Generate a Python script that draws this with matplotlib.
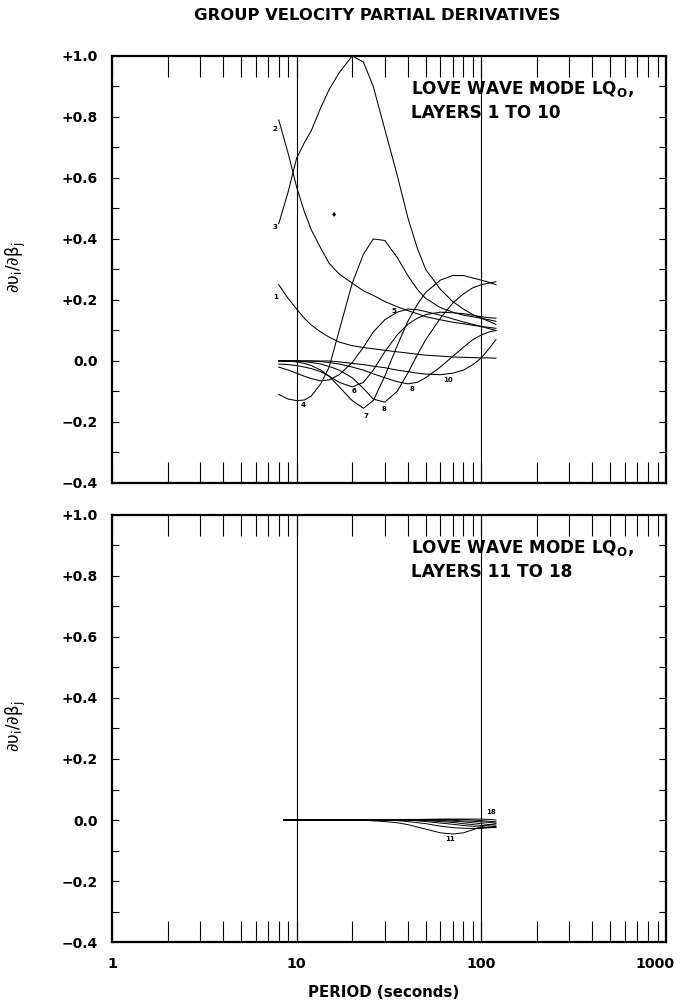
import numpy as np
import matplotlib
matplotlib.use("Agg")
import matplotlib.pyplot as plt
from matplotlib.transforms import ScaledTranslation
from matplotlib.ticker import LogLocator, MultipleLocator, NullFormatter, FixedLocator

plt.rcParams['font.family'] = ['DejaVu Sans']
plt.rcParams['mathtext.fontset'] = 'dejavusans'

# ---- periods (s) at which the derivatives are tabulated ----
period_top = [8, 9, 10, 11, 12, 13.5, 15, 17, 20, 23, 26, 30, 35, 40, 45, 50, 60, 70, 80, 90, 100, 110, 120]

# layers 1-10
layer_1 = [0.25, 0.205, 0.17, 0.14, 0.118, 0.095, 0.078, 0.062, 0.05, 0.044, 0.04, 0.035, 0.03, 0.026, 0.022, 0.019, 0.016, 0.013, 0.012, 0.011, 0.01, 0.01, 0.009]
layer_2 = [0.79, 0.68, 0.57, 0.49, 0.43, 0.37, 0.32, 0.285, 0.255, 0.23, 0.215, 0.195, 0.178, 0.165, 0.155, 0.145, 0.135, 0.127, 0.122, 0.117, 0.113, 0.11, 0.107]
layer_3 = [0.45, 0.555, 0.665, 0.715, 0.755, 0.83, 0.89, 0.945, 1.0, 0.98, 0.90, 0.76, 0.61, 0.47, 0.37, 0.30, 0.235, 0.195, 0.17, 0.152, 0.14, 0.13, 0.12]
layer_4 = [-0.11, -0.125, -0.13, -0.128, -0.115, -0.075, -0.02, 0.10, 0.255, 0.35, 0.40, 0.395, 0.34, 0.28, 0.235, 0.205, 0.175, 0.16, 0.15, 0.145, 0.14, 0.135, 0.13]
layer_5 = [-0.02, -0.03, -0.04, -0.05, -0.058, -0.065, -0.062, -0.045, -0.005, 0.045, 0.095, 0.135, 0.16, 0.17, 0.168, 0.162, 0.15, 0.138, 0.128, 0.12, 0.113, 0.106, 0.10]
layer_6 = [-0.01, -0.012, -0.015, -0.02, -0.025, -0.035, -0.05, -0.07, -0.085, -0.07, -0.03, 0.03, 0.085, 0.12, 0.14, 0.152, 0.16, 0.158, 0.155, 0.15, 0.145, 0.142, 0.14]
layer_7 = [0.0, 0.0, -0.003, -0.008, -0.015, -0.03, -0.05, -0.085, -0.13, -0.155, -0.13, -0.05, 0.05, 0.13, 0.185, 0.225, 0.265, 0.28, 0.28, 0.272, 0.265, 0.258, 0.25]
layer_8 = [0.0, 0.0, 0.0, -0.002, -0.005, -0.01, -0.018, -0.03, -0.055, -0.09, -0.125, -0.135, -0.10, -0.04, 0.02, 0.07, 0.14, 0.19, 0.22, 0.24, 0.25, 0.255, 0.26]
layer_9 = [0.0, 0.0, 0.0, 0.0, 0.0, -0.002, -0.005, -0.01, -0.02, -0.03, -0.042, -0.055, -0.068, -0.075, -0.07, -0.055, -0.02, 0.015, 0.045, 0.07, 0.085, 0.095, 0.10]
layer_10 = [0.0, 0.0, 0.0, 0.0, 0.0, 0.0, 0.0, -0.003, -0.008, -0.012, -0.017, -0.022, -0.03, -0.035, -0.04, -0.043, -0.045, -0.04, -0.03, -0.012, 0.01, 0.04, 0.07]

period_bottom = [8.5, 12, 16, 20, 25, 30, 35, 40, 50, 60, 70, 80, 90, 100, 110, 120]

# layers 11-18
layer_11 = [0.0, 0.0, 0.0, 0.0, -0.002, -0.005, -0.009, -0.015, -0.03, -0.042, -0.046, -0.042, -0.032, -0.022, -0.016, -0.012]
layer_12 = [0.0, 0.0, 0.0, 0.0, 0.0, 0.0, -0.002, -0.005, -0.012, -0.02, -0.025, -0.027, -0.028, -0.028, -0.025, -0.022]
layer_13 = [0.0, 0.0, 0.0, 0.0, 0.0, 0.0, 0.0, 0.0, -0.005, -0.01, -0.014, -0.018, -0.021, -0.024, -0.025, -0.025]
layer_14 = [0.0, 0.0, 0.0, 0.0, 0.0, 0.0, 0.0, 0.0, -0.002, -0.005, -0.008, -0.012, -0.015, -0.018, -0.02, -0.022]
layer_15 = [0.0, 0.0, 0.0, 0.0, 0.0, 0.0, 0.0, 0.0, 0.0, -0.002, -0.004, -0.006, -0.009, -0.012, -0.015, -0.017]
layer_16 = [0.0, 0.0, 0.0, 0.0, 0.0, 0.0, 0.0, 0.0, 0.0, 0.0, -0.001, -0.003, -0.004, -0.006, -0.008, -0.01]
layer_17 = [0.0, 0.0, 0.0, 0.0, 0.0, 0.0, 0.001, 0.002, 0.002, 0.002, 0.002, 0.002, 0.0, -0.002, -0.004, -0.006]
layer_18 = [0.0, 0.0, 0.0, 0.0, 0.0, 0.0, 0.0, 0.001, 0.002, 0.003, 0.003, 0.003, 0.003, 0.003, 0.002, 0.0]

# curve number labels: (text, period, value)
top_labels = [("1", 7.7, 0.21), ("2", 7.6, 0.76), ("3", 7.6, 0.44), ("4", 10.9, -0.145),
              ("5", 33.5, 0.165), ("6", 20.5, -0.10), ("7", 23.7, -0.18), ("8", 29.7, -0.158),
              ("8", 42.0, -0.092), ("10", 66.0, -0.062)]
bottom_labels = [("11", 68.0, -0.062), ("18", 113.0, 0.025)]

yticks = [-0.4, -0.2, 0.0, 0.2, 0.4, 0.6, 0.8, 1.0]
ytick_labels = ["\u22120.4", "\u22120.2", "0.0", "+0.2", "+0.4", "+0.6", "+0.8", "+1.0"]
xticks = [1, 10, 100, 1000]
xtick_labels = ["1", "10", "100", "1000"]

fig = plt.figure(figsize=(6.82, 10.06), dpi=100)
ax_top = fig.add_axes([0.1642, 0.5199, 0.8123, 0.4245])
ax_bot = fig.add_axes([0.1642, 0.0636, 0.8123, 0.4245])


def style_axes(ax, show_xlabels):
    ax.set_xscale("log")
    ax.set_xlim(1, 1000)
    ax.set_ylim(-0.4, 1.0)
    for s in ax.spines.values():
        s.set_linewidth(1.6)
    ax.set_yticks(yticks)
    ax.set_yticklabels(ytick_labels, fontsize=10, fontweight="bold")
    ax.yaxis.set_minor_locator(MultipleLocator(0.1))
    ax.tick_params(axis="y", which="both", direction="in", length=5, width=0.8,
                   left=True, right=True, pad=10)
    ax.xaxis.set_major_locator(FixedLocator(xticks))
    ax.xaxis.set_minor_locator(LogLocator(base=10, subs=np.arange(2, 10)))
    ax.xaxis.set_minor_formatter(NullFormatter())
    ax.tick_params(axis="x", which="both", direction="in", length=15, width=0.8,
                   top=True, bottom=True, pad=11)
    if show_xlabels:
        ax.set_xticklabels(xtick_labels, fontsize=10.3, fontweight="bold")
        last = ax.get_xticklabels()[-1]
        last.set_transform(last.get_transform() + ScaledTranslation(-8 / 72, 0, fig.dpi_scale_trans))
    else:
        ax.set_xticklabels([])
    for v in (10, 100):
        ax.axvline(v, color="black", lw=0.8)
    ax.set_ylabel(r"$\mathregular{\partial\upsilon_i/\partial\beta_j}$", fontsize=12)
    ax.yaxis.set_label_coords(-0.152, 0.505)


style_axes(ax_top, False)
style_axes(ax_bot, True)

for series in [layer_1, layer_2, layer_3, layer_4, layer_5, layer_6, layer_7, layer_8, layer_9, layer_10]:
    ax_top.plot(period_top, series, color="black", lw=0.75)

for series in [layer_11, layer_12, layer_13, layer_14, layer_15, layer_16, layer_17, layer_18]:
    ax_bot.plot(period_bottom, series, color="black", lw=0.7)

for txt, p, v in top_labels:
    ax_top.text(p, v, txt, fontsize=5, fontweight="bold", ha="center", va="center")
for txt, p, v in bottom_labels:
    ax_bot.text(p, v, txt, fontsize=5, fontweight="bold", ha="center", va="center")
ax_top.text(15.9, 0.48, "\u2666", fontsize=5, ha="center", va="center")

for ax, layers_text in ((ax_top, "LAYERS 1 TO 10"), (ax_bot, "LAYERS 11 TO 18")):
    ax.text(0.54, 0.923, r"LOVE WAVE MODE LQ$_{\mathbf{O}}$,", transform=ax.transAxes,
            fontsize=12.2, fontweight="bold", ha="left", va="center")
    ax.text(0.54, 0.866, layers_text, transform=ax.transAxes,
            fontsize=12.2, fontweight="bold", ha="left", va="center")

fig.text(0.553, 0.985, "GROUP VELOCITY PARTIAL DERIVATIVES", fontsize=11.8,
         fontweight="bold", ha="center", va="center")
fig.text(0.562, 0.013, "PERIOD (seconds)", fontsize=10.8, fontweight="bold",
         ha="center", va="center")

fig.savefig("out.png", dpi=100)
